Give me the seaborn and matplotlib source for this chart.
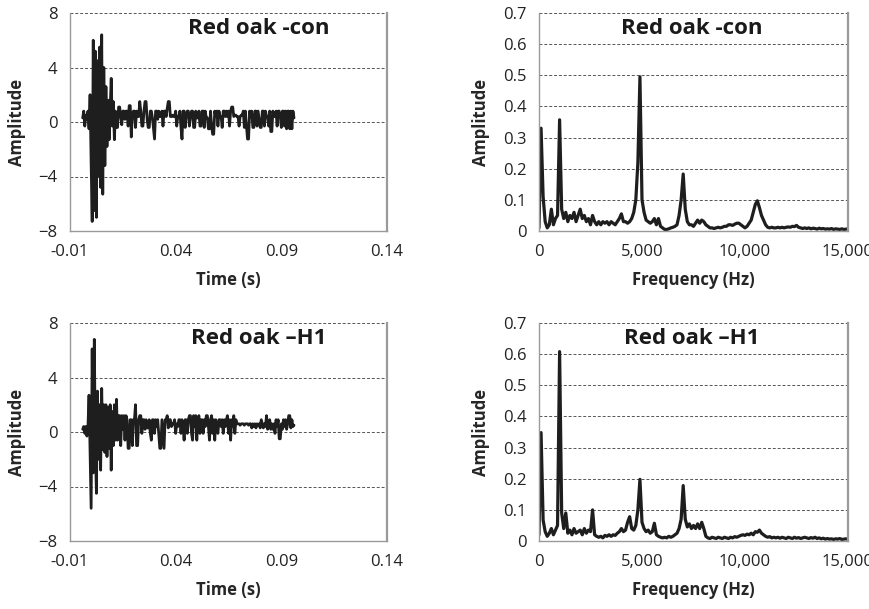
import numpy as np
import pandas as pd
import matplotlib
matplotlib.use("Agg")
import matplotlib.pyplot as plt
import seaborn as sns

# ---------------- data ----------------
time_start = -0.004
time_step = 0.0005

amp_con = [
    0.3, 0.8, -0.3, 0.5, 0.2, 0.8, -0.5, 2.0, -3.0, -7.3,
    6.0, -6.5, 5.2, -7.0, 4.5, -4.0, 5.5, -4.8, 6.4, -5.3,
    4.0, -3.2, 2.6, -1.8, 1.6, -1.3, 1.0, 3.2, -0.3, 1.5,
    -1.3, 0.8,
    -0.4, -0.4, 1.1, 1.1, 0.4, -0.2, 0.8, 0.8, 0.2, 0.8,
    0.8, -0.3, 1.2, 1.2, -1.1, 0.5, 0.8, 0.8, -0.4, 0.8,
    0.4, 0.4, 1.5, 0.8, -0.3, -0.3, 0.8, 1.5, 1.5, 0.2,
    -0.4, -0.4, 0.8, 0.8, 0.3, -0.5, -1.25, 0.8, 0.8, 0.2,
    0.8, 0.4, 0.4, 0.8, -0.3, 0.8, 0.8, 0.4, 1.0, 1.5,
    1.5, 0.4, 0.4, 0.5, 0.4, 0.4, 0.8, -0.3, 0.4, 0.4,
    0.8, -0.4, -1.25, 0.8, 0.8, -0.4, 0.5, 0.8, 0.8, -0.3,
    0.4, 0.8, 0.8, -0.4, -0.4, 0.8, 0.3, 0.3, 0.8, -0.3,
    -0.3, 0.8, 0.8, -0.4, 0.8, 0.3, 0.3, -0.5, -0.5, 0.8,
    -0.3, -0.9, -0.9, 0.8, 0.4, 0.8, -0.3, 0.8, 0.4, 0.4,
    -0.4, 0.8, 0.8, 0.4, 0.8, 0.4, 0.8, -0.3, 0.8, 1.1,
    1.1, 0.4, 0.5, 0.5, 0.4, 0.4, -0.3, 0.4, 0.5, 0.5,
    0.8, -0.4, 0.8, -0.3, -1.25, -1.25, 0.8, 0.4, 0.8, -0.4,
    -0.4, 0.8, 0.8, -0.3, 0.8, 0.2, -0.4, -0.4, 0.8, 0.8,
    -0.3, 0.8, 0.4, 0.4, -0.3, 0.8, -0.7, -0.7, 0.8, 0.4,
    0.4, 0.8, -0.3, 0.8, 0.8, 0.4, -0.4, 0.8, 0.8, -0.3,
    0.8, -0.5, 0.8, 0.8, -0.5, 0.8, -0.5, 0.8, 0.3,
]

amp_h1 = [
    0.2, 0.4, -0.1, 0.4, -0.3, 0.4, 2.7, -1.5, -5.6, 6.1,
    -3.0, 6.8, -1.0, -4.5, 3.0, -2.0, 2.0, -2.8, 3.2, -1.3,
    2.0, -1.5, 2.0, -1.8, 1.8, -1.2, 2.0, -2.8, 1.5, -1.0,
    2.0, -0.6,
    2.4, -0.6, 1.2, 1.2, -1.0, 1.2, 0.2, 1.2, -0.6, 1.2,
    0.9, -1.2, -1.2, 0.9, 0.9, -1.0, 0.9, 0.9, 2.0, -1.0,
    -1.0, 0.9, 1.2, 1.2, -0.1, 0.9, 0.9, 0.2, 0.9, 0.3,
    0.3, 0.9, -0.1, -0.6, 0.9, 0.9, -0.1, 0.9, 0.4, 0.9,
    -0.1, -1.2, -1.2, 0.9, -0.1, -1.2, 0.9, 0.9, 1.2, 0.3,
    0.9, 0.9, 0.4, 0.6, 0.6, 0.9, -0.1, 0.6, 0.4, 0.9,
    0.9, -0.1, 0.9, 0.4, -0.6, 0.9, 0.9, -0.1, 0.9, 1.2,
    1.2, -0.1, -0.6, 1.2, 0.4, 1.2, -0.6, 0.9, 1.2, -0.1,
    0.9, 0.9, -0.1, 0.9, 0.4, 1.2, 1.2, 0.4, -0.6, 0.9,
    1.2, -0.1, 0.9, -0.6, 0.9, 0.4, -0.1, 0.9, 0.9, 0.4,
    0.9, -0.1, 0.9, 0.4, 0.9, 1.2, -0.1, 0.9, -0.6, 0.9,
    0.4, 1.2, -0.1, 0.9, 0.6, 0.6, 0.6, 0.5, 0.6, 0.6,
    0.6, 0.5, 0.6, 0.6, 0.6, 0.5, 0.6, 0.6, 0.3, 0.6,
    0.4, 0.6, 0.3, 0.6, 0.5, 0.6, 0.3, 0.9, 0.6, 0.3,
    0.6, 0.4, 1.2, 0.2, 0.6, 0.9, 0.2, 0.6, 0.2, 0.6,
    -0.1, 0.9, 0.4, 0.9, -0.5, -0.5, 0.6, 0.2, 0.9, 0.4,
    0.9, 0.2, 0.6, 1.2, 1.2, 0.3, 0.9, 0.4, 0.5,
]

freq_step = 100

spec_con = [
    0.01, 0.33, 0.11, 0.03, 0.01, 0.02, 0.07, 0.02, 0.04, 0.05,
    0.357, 0.07, 0.04, 0.06, 0.03, 0.05, 0.04, 0.06, 0.03, 0.05,
    0.07, 0.04, 0.05, 0.03, 0.04, 0.02, 0.05, 0.03, 0.02, 0.03,
    0.02, 0.03, 0.025, 0.03, 0.02, 0.03, 0.025, 0.02, 0.03, 0.04,
    0.055, 0.03, 0.03, 0.025, 0.03, 0.04, 0.06, 0.10, 0.22, 0.495,
    0.10, 0.06, 0.035, 0.03, 0.025, 0.03, 0.04, 0.02, 0.04, 0.015,
    0.01, 0.005, 0.005, 0.007, 0.01, 0.012, 0.015, 0.02, 0.05, 0.10,
    0.183, 0.07, 0.03, 0.02, 0.02, 0.015, 0.025, 0.035, 0.025, 0.035,
    0.03, 0.02, 0.015, 0.01, 0.01, 0.008, 0.01, 0.012, 0.01, 0.012,
    0.015, 0.015, 0.02, 0.02, 0.018, 0.022, 0.025, 0.025, 0.02, 0.015,
    0.01, 0.015, 0.025, 0.035, 0.06, 0.085, 0.097, 0.075, 0.05, 0.035,
    0.02, 0.012, 0.01, 0.012, 0.01, 0.01, 0.012, 0.01, 0.012, 0.01,
    0.012, 0.013, 0.012, 0.015, 0.014, 0.018, 0.012, 0.01, 0.008, 0.01,
    0.008, 0.01, 0.007, 0.009, 0.008, 0.006, 0.009, 0.007, 0.008, 0.006,
    0.007, 0.006, 0.008, 0.005, 0.007, 0.006, 0.005, 0.007, 0.005, 0.006, 0.007,
]

spec_h1 = [
    0.02, 0.348, 0.067, 0.03, 0.015, 0.025, 0.04, 0.02, 0.035, 0.05,
    0.608, 0.09, 0.04, 0.09, 0.025, 0.035, 0.02, 0.04, 0.025, 0.03,
    0.035, 0.02, 0.04, 0.025, 0.035, 0.03, 0.10, 0.02, 0.015, 0.012,
    0.015, 0.01, 0.018, 0.015, 0.02, 0.015, 0.02, 0.018, 0.025, 0.03,
    0.04, 0.03, 0.035, 0.06, 0.078, 0.04, 0.035, 0.05, 0.10, 0.198,
    0.06, 0.04, 0.03, 0.035, 0.025, 0.03, 0.057, 0.02, 0.015, 0.012,
    0.01, 0.012, 0.01, 0.015, 0.012, 0.015, 0.02, 0.025, 0.04, 0.07,
    0.178, 0.07, 0.045, 0.055, 0.04, 0.05, 0.04, 0.055, 0.04, 0.06,
    0.04, 0.015, 0.01, 0.008, 0.012, 0.01, 0.008, 0.012, 0.01, 0.008,
    0.012, 0.01, 0.008, 0.012, 0.01, 0.014, 0.012, 0.015, 0.018, 0.02,
    0.018, 0.022, 0.02, 0.025, 0.02, 0.03, 0.028, 0.035, 0.025, 0.02,
    0.015, 0.012, 0.014, 0.01, 0.012, 0.01, 0.012, 0.009, 0.012, 0.01,
    0.008, 0.012, 0.01, 0.008, 0.012, 0.009, 0.011, 0.008, 0.01, 0.012,
    0.01, 0.008, 0.011, 0.009, 0.012, 0.008, 0.01, 0.007, 0.009, 0.006,
    0.008, 0.006, 0.007, 0.005, 0.007, 0.006, 0.008, 0.005, 0.006, 0.007, 0.005,
]

titles = ["Red oak -con", "Red oak \u2013H1"]
time_ticks = [-0.01, 0.04, 0.09, 0.14]
time_ticklabels = ["-0.01", "0.04", "0.09", "0.14"]
amp_ticks = [-8, -4, 0, 4, 8]
freq_ticks = [0, 5000, 10000, 15000]
freq_ticklabels = ["0", "5,000", "10,000", "15,000"]
spec_ticks = [0, 0.1, 0.2, 0.3, 0.4, 0.5, 0.6, 0.7]
spec_ticklabels = ["0", "0.1", "0.2", "0.3", "0.4", "0.5", "0.6", "0.7"]

# ---------------- style ----------------
sns.set_style("white")
plt.rcParams["font.family"] = ["Open Sans", "DejaVu Sans"]

fig = plt.figure(figsize=(8.7, 6.09), dpi=100)

W, H = 870.0, 609.0
def box(l, r, t, b):
    return [l / W, 1 - b / H, (r - l) / W, (b - t) / H]

pos = {
    (0, 0): box(70, 387, 13, 231),
    (0, 1): box(539, 848, 13, 231),
    (1, 0): box(70, 387, 323, 541),
    (1, 1): box(539, 848, 323, 541),
}

line_color = "#1e1e1e"
spine_color = "#9a9a9a"

def style_axes(ax):
    for s in ["left", "bottom", "right"]:
        ax.spines[s].set_color(spine_color)
        ax.spines[s].set_linewidth(1.0)
    ax.spines["right"].set_linewidth(1.6)
    ax.spines["top"].set_visible(False)
    ax.yaxis.grid(True, linestyle=(0, (3, 2)), color="#555555", linewidth=0.7)
    ax.xaxis.grid(False)
    ax.tick_params(axis="both", direction="out", length=4, width=1,
                   color=spine_color, labelsize=12, labelcolor="#222222", pad=5)
    ax.set_axisbelow(True)

signals = [amp_con, amp_h1]
spectra = [spec_con, spec_h1]

for row in range(2):
    # time domain
    ax = fig.add_axes(pos[(row, 0)])
    sig = signals[row]
    df_t = pd.DataFrame({
        "t": time_start + time_step * np.arange(len(sig)),
        "a": sig,
    })
    sns.lineplot(data=df_t, x="t", y="a", ax=ax, color=line_color,
                 linewidth=2.0, estimator=None, sort=False)
    ax.set_xlim(-0.01, 0.14)
    ax.set_ylim(-8, 8)
    ax.set_xticks(time_ticks)
    ax.set_xticklabels(time_ticklabels)
    ax.set_yticks(amp_ticks)
    style_axes(ax)
    ax.set_xlabel("Time (s)", fontsize=12, fontweight="bold", labelpad=8)
    ax.set_ylabel("Amplitude", fontsize=12, fontweight="bold", labelpad=9)
    ax.text(0.596, 0.931, titles[row], transform=ax.transAxes, ha="center",
            va="center", fontsize=16, fontweight="bold", color="#1a1a1a")

    # frequency domain
    ax = fig.add_axes(pos[(row, 1)])
    sp = spectra[row]
    df_f = pd.DataFrame({
        "f": freq_step * np.arange(len(sp)),
        "m": sp,
    })
    sns.lineplot(data=df_f, x="f", y="m", ax=ax, color=line_color,
                 linewidth=2.3, estimator=None, sort=False)
    ax.set_xlim(0, 15000)
    ax.set_ylim(0, 0.7)
    ax.set_xticks(freq_ticks)
    ax.set_xticklabels(freq_ticklabels)
    ax.set_yticks(spec_ticks)
    ax.set_yticklabels(spec_ticklabels)
    style_axes(ax)
    ax.set_xlabel("Frequency (Hz)", fontsize=12, fontweight="bold", labelpad=8)
    ax.set_ylabel("Amplitude", fontsize=12, fontweight="bold", labelpad=9)
    ax.text(0.495, 0.931, titles[row], transform=ax.transAxes, ha="center",
            va="center", fontsize=16, fontweight="bold", color="#1a1a1a")

fig.savefig("out.png", dpi=100)
